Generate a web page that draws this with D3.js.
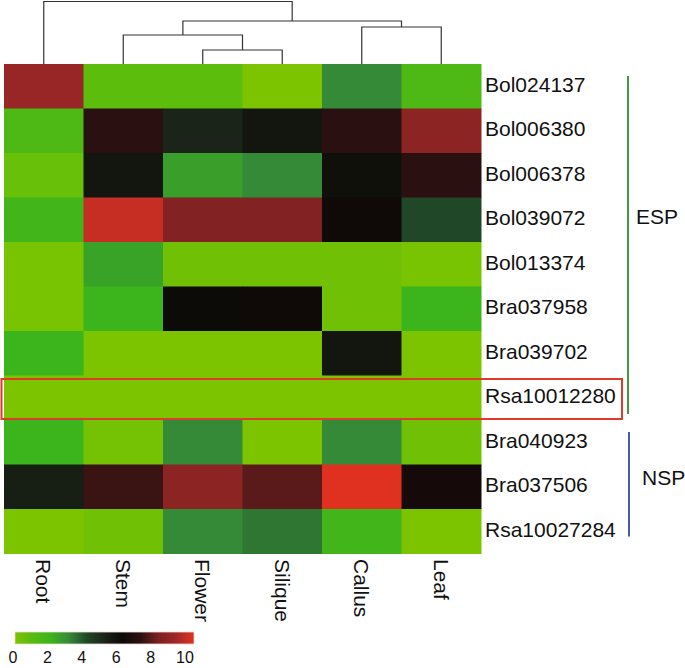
<!DOCTYPE html>
<html><head><meta charset="utf-8">
<script src="https://cdn.jsdelivr.net/npm/d3@7/dist/d3.min.js"></script>
<style>body{margin:0;background:#fff}svg{display:block;font-family:"Liberation Sans",Arial,sans-serif}</style>
</head><body><svg id="c" width="685" height="668"></svg>
<script>
const columns = ["Root","Stem","Flower","Silique","Callus","Leaf"];
const genes = ["Bol024137","Bol006380","Bol006378","Bol039072","Bol013374","Bra037958","Bra039702","Rsa10012280","Bra040923","Bra037506","Rsa10027284"];
const values = [
  [8.8, 0.8, 0.8, 0.0, 3.0, 1.3],
  [1.3, 7.0, 5.0, 5.5, 7.0, 8.5],
  [0.5, 5.5, 2.5, 3.0, 5.7, 7.0],
  [1.8, 9.6, 8.2, 8.2, 6.1, 4.0],
  [0.1, 2.4, 0.3, 0.3, 0.3, 0.1],
  [0.1, 2.0, 5.9, 6.1, 0.3, 2.0],
  [2.0, 0.0, 0.0, 0.0, 5.5, 0.0],
  [0.0, 0.0, 0.0, 0.0, 0.0, 0.0],
  [2.0, 0.2, 3.0, 0.0, 3.0, 0.3],
  [5.2, 7.2, 8.5, 7.6, 10.0, 6.3],
  [0.0, 0.3, 3.0, 3.3, 1.8, 0.0]
];
const colorStops = [0,1,2,3,4,5,6,7,8,9,10];
const colorValues = ["#7cc400","#55bb10","#3cb41c","#358a38","#204828","#1a2418","#0c0806","#2a1010","#7a2020","#a02828","#e03020"];
const legendTicks = [0,2,4,6,8,10];
// dendrogram merges: [left, right, height]
const merges = [
  ["Flower","Silique",14],
  ["Stem","m0",29],
  ["Callus","Leaf",37],
  ["m1","m2",43],
  ["Root","m3",62.5]
];
const groups = [
  {name:"ESP", from:0, to:7, color:"#3f9a40"},
  {name:"NSP", from:8, to:10, color:"#4a5aaa"}
];
const highlightRow = "Rsa10012280";

const svg = d3.select("#c");
const x = d3.scaleBand().domain(columns).range([4, 481]);
const y = d3.scaleBand().domain(genes).range([64, 553.5]);
const color = d3.scaleLinear().domain(colorStops).range(colorValues).clamp(true);

// cells
const cells = [];
values.forEach((r,i)=>r.forEach((v,j)=>cells.push({g:genes[i], c:columns[j], v})));
svg.append("g").selectAll("rect").data(cells).join("rect")
  .attr("x", d=>x(d.c)).attr("y", d=>y(d.g))
  .attr("width", x.bandwidth()+0.5).attr("height", y.bandwidth()+0.5)
  .attr("fill", d=>color(d.v));

// dendrogram
const hy = d3.scaleLinear().domain([0, 62.5]).range([64, 1.5]);
const nodes = {};
columns.forEach(c=>nodes[c] = {x: x(c)+x.bandwidth()/2, h:0});
const dg = svg.append("g").attr("fill","none").attr("stroke","#333").attr("stroke-width",1.2);
merges.forEach((m,i)=>{
  const a = nodes[m[0]], b = nodes[m[1]], h = m[2];
  dg.append("path").attr("d",
    `M${a.x},${hy(a.h)}V${hy(h)}H${b.x}V${hy(b.h)}`);
  nodes["m"+i] = {x:(a.x+b.x)/2, h};
});

// row labels
svg.append("g").selectAll("text").data(genes).join("text")
  .attr("x", 485).attr("y", d=>y(d)+y.bandwidth()/2 - 2)
  .attr("dy","0.35em").attr("font-size",21).attr("fill","#111").text(d=>d);

// column labels
svg.append("g").selectAll("text").data(columns).join("text")
  .attr("transform", d=>`translate(${x(d)+x.bandwidth()/2},559) rotate(90)`)
  .attr("dy","0.35em").attr("font-size",21).attr("fill","#111").text(d=>d);

// highlight box
const hr = y(highlightRow);
svg.append("rect").attr("x",1.5).attr("y",hr+3.5).attr("width",620.5).attr("height",y.bandwidth()-4.5)
  .attr("fill","none").attr("stroke","#e03a28").attr("stroke-width",2);

// group brackets
groups.forEach((g,i)=>{
  const y0 = y(genes[g.from])+12, y1 = y(genes[g.to])+y.bandwidth()-(i===0?6:17);
  const lx = i===0?628:629;
  svg.append("line").attr("x1",lx).attr("x2",lx).attr("y1",y0).attr("y2",y1)
    .attr("stroke",g.color).attr("stroke-width",2);
  const ly = i===0 ? 217 : 478;
  svg.append("text").attr("x", i===0?636:642).attr("y",ly).attr("dy","0.35em")
    .attr("font-size",21).attr("fill","#111").text(g.name);
});

// legend
const defs = svg.append("defs");
const grad = defs.append("linearGradient").attr("id","lg");
colorStops.forEach((s,i)=>grad.append("stop").attr("offset",(s/10*100)+"%").attr("stop-color",colorValues[i]));
svg.append("rect").attr("x",15).attr("y",632).attr("width",179).attr("height",12)
  .attr("fill","url(#lg)").attr("stroke","#f0d8d0").attr("stroke-width",0.8);
const lx = d3.scaleLinear().domain([0,10]).range([13,185]);
svg.append("g").selectAll("text").data(legendTicks).join("text")
  .attr("x", d=>lx(d)).attr("y",663).attr("text-anchor","middle")
  .attr("font-size",16).attr("fill","#111").text(d=>d);
</script></body></html>
